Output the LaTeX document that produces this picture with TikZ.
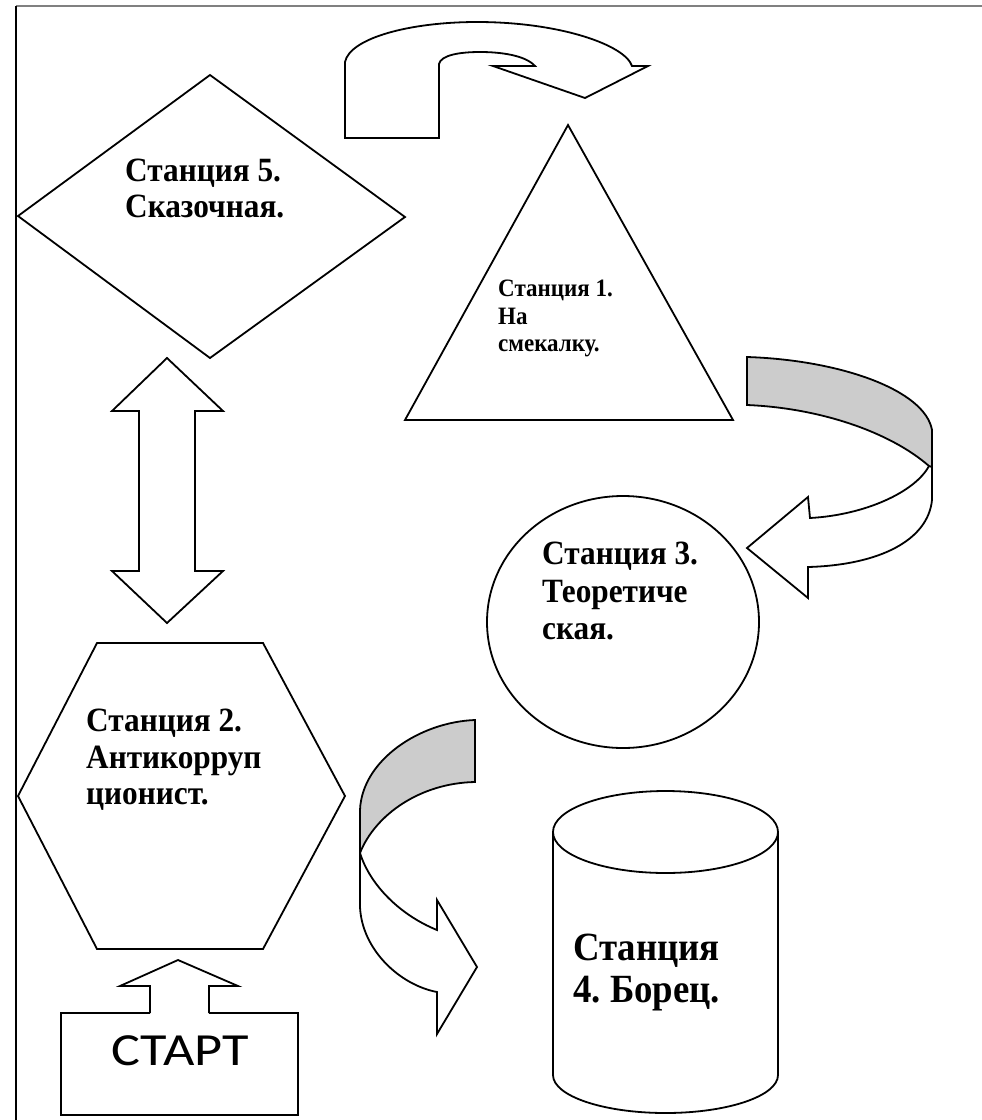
\documentclass[tikz,border=0pt]{standalone}
\usepackage{fontspec}
\setmainfont{Liberation Serif}
\newfontfamily\stfont[FakeStretch=0.92]{Liberation Serif}
\newfontfamily\startfont[FakeStretch=1.18]{Carlito}
\frenchspacing
\begin{document}
\begin{tikzpicture}[x=1pt,y=-1pt, line join=miter,
  shp/.style={draw=black, line width=1.8pt},
  band/.style={fill=gray!40},
  lbl/.style={anchor=north west, align=left, inner sep=0pt}]
\useasboundingbox (0,0) rectangle (982,1120);
\fill[white] (0,0) rectangle (982,1120);
% frame
\draw[gray, line width=1.5pt] (16,6) -- (982,6);
\draw[line width=1.8pt] (16,6) -- (16,1120);
% station 5 (diamond)
\draw[shp] (210,75) -- (405,217) -- (210,358) -- (18,216) -- cycle;
\node[lbl, font=\stfont\bfseries\fontsize{34}{36}\selectfont] (s5) at (125,159) {Станция 5.\\Сказочная.};
% station 1 (triangle)
\draw[shp] (568,125) -- (733,420) -- (405,420) -- cycle;
\node[lbl, font=\stfont\bfseries\fontsize{25}{27.5}\selectfont] (s1) at (498,280) {Станция 1.\\На\\смекалку.};
% station 3 (circle)
\draw[shp] (623,622) ellipse [x radius=136pt, y radius=126pt];
\node[lbl, font=\stfont\bfseries\fontsize{34}{37.5}\selectfont] (s3) at (542,542) {Станция 3.\\Теоретиче\\ская.};
% station 2 (hexagon)
\draw[shp] (97,643) -- (263,643) -- (345,796) -- (263,949) -- (97,949) -- (18,796) -- cycle;
\node[lbl, font=\stfont\bfseries\fontsize{34}{36.5}\selectfont] (s2) at (86,709) {Станция 2.\\Антикорруп\\ционист.};
% station 4 (cylinder)
\draw[shp] (665.5,832) ellipse [x radius=112.5pt, y radius=41pt];
\draw[shp] (553,832) -- (553,1075) .. controls (553,1096) and (603.4,1113) .. (665.5,1113)
  .. controls (727.6,1113) and (778,1096) .. (778,1075) -- (778,832);
\node[lbl, font=\stfont\bfseries\fontsize{40}{42}\selectfont] (s4) at (573,934) {Станция\\4. Борец.};
% start
\draw[shp] (150,1013) -- (150,986) -- (120,986) -- (178,960) -- (238,986) -- (209,986) -- (209,1013);
\draw[shp] (150,1013) -- (61,1013) -- (61,1115) -- (298,1115) -- (298,1013) -- (209,1013);
\node[font=\startfont\fontsize{46}{50}\selectfont, anchor=base, inner sep=0pt] (start) at (180,1065) {СТАРТ};
% double arrow
\draw[shp] (167,358) -- (223,411) -- (195,411) -- (195,571) -- (223,571) -- (167,623)
  -- (112,571) -- (139,571) -- (139,411) -- (112,411) -- cycle;
% top curved arrow
\draw[shp] (345,138) -- (345,62) .. controls (350,38) and (410,22) .. (477,22)
  .. controls (560,22) and (625,45) .. (632,66) -- (648,66) -- (585,98) -- (493,66) -- (535,66)
  .. controls (525,55) and (500,52) .. (480,52) .. controls (460,52) and (441,55) .. (439,64)
  -- (439,138) -- cycle;
% right curved arrow
\filldraw[shp, band] (747,357) .. controls (840,360) and (925,390) .. (932,430) -- (932,467)
  -- (929,466) .. controls (890,432) and (820,408) .. (747,405) -- cycle;
\draw[shp] (929,466) .. controls (915,492) and (865,515) .. (810,518) -- (808,497) -- (747,548)
  -- (808,598) -- (808,567) .. controls (880,565) and (928,540) .. (932,500) -- (932,467);
% left curved arrow
\filldraw[shp, band] (475,720) .. controls (420,722) and (362,760) .. (360,810) -- (360,853)
  .. controls (375,815) and (420,783) .. (475,782) -- cycle;
\draw[shp] (360,853) .. controls (370,885) and (400,915) .. (437,930) -- (437,900) -- (477,967)
  -- (437,1034) -- (437,992) .. controls (400,985) and (362,950) .. (360,907) -- (360,853);
\end{tikzpicture}
\end{document}
